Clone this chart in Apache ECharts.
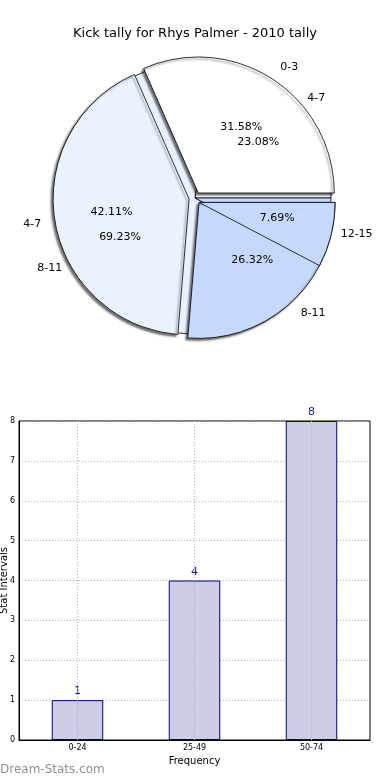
<!DOCTYPE html>
<html>
<head>
<meta charset="utf-8">
<script src="https://cdn.jsdelivr.net/npm/echarts@6/dist/echarts.min.js"></script>
<style>
html,body{margin:0;padding:0;background:#fff;}
#c{width:390px;height:780px;}
</style>
</head>
<body>
<div id="c"></div>
<script>
const chartTitle = 'Kick tally for Rhys Palmer - 2010 tally';
const pieNamesA = ['0-3', '4-7', '8-11'];
const pieValuesA = [31.58, 42.11, 26.32];
const pieNamesB = ['4-7', '8-11', '12-15'];
const pieValuesB = [23.08, 69.23, 7.69];
const barCategories = ['0-24', '25-49', '50-74'];
const barValues = [1, 4, 8];

const FONT = 'DejaVu Sans';
const pieColors = ['#ffffff', '#eaf1ff', '#c5d9ff'];
const R = 136;
const CENTER = [195, 198];
const EXPLODE = 6;

// offset of the exploded last wedge of pie A (so the overlay wedge lines up with it)
const sumA = pieValuesA.reduce((a, b) => a + b, 0);
const midA3 = (360 * (pieValuesA[0] + pieValuesA[1] + pieValuesA[2] / 2) / sumA) * Math.PI / 180;
const CENTER_A3 = [CENTER[0] + EXPLODE * Math.cos(midA3), CENTER[1] - EXPLODE * Math.sin(midA3)];

function pieData(names, vals, extra) {
  return names.map((n, i) => Object.assign({
    name: n, value: vals[i],
    itemStyle: { color: pieColors[i] }
  }, extra ? extra(i) : {}));
}

const nameLabel = {
  show: true, position: 'outside', fontFamily: FONT, fontSize: 11, color: '#000',
  distanceToLabelLine: 0, alignTo: 'none'
};
const nameLabelLine = { show: false, length: 14, length2: 0 };
const pctLabel = {
  show: true, position: 'inside', fontFamily: FONT, fontSize: 11, color: '#000',
  formatter: p => p.value.toFixed(2) + '%'
};

const chart = echarts.init(document.getElementById('c'), null, { renderer: 'canvas' });
chart.setOption({
  animation: false,
  backgroundColor: '#fff',
  title: {
    text: chartTitle, left: 'center', top: 22,
    textStyle: { fontFamily: FONT, fontSize: 13, fontWeight: 'normal', color: '#000' }
  },
  graphic: [{
    type: 'text', left: 0, top: 764,
    style: { text: 'Dream-Stats.com', fontFamily: FONT, fontSize: 12, fontWeight: 'normal', fill: '#8f8f8f' }
  }],
  grid: {
    left: 19, right: 20, top: 421, bottom: 40,
    containLabel: false, outerBoundsMode: 'none',
    show: true, borderColor: '#000', borderWidth: 1, backgroundColor: 'transparent'
  },
  xAxis: {
    type: 'category', data: barCategories, boundaryGap: true,
    name: 'Frequency', nameLocation: 'middle', nameGap: 16, nameMoveOverlap: false,
    nameTextStyle: { fontFamily: FONT, fontSize: 10, color: '#000' },
    axisLine: { show: true, lineStyle: { color: '#000' } },
    axisTick: { show: false },
    axisLabel: { fontFamily: FONT, fontSize: 8, color: '#000', margin: 4 },
    splitLine: { show: false }
  },
  yAxis: {
    type: 'value', min: 0, max: 8, interval: 1,
    name: 'Stat Intervals', nameLocation: 'middle', nameGap: 10, nameRotate: 90, nameMoveOverlap: false,
    nameTextStyle: { fontFamily: FONT, fontSize: 10, color: '#000' },
    axisLine: { show: true, lineStyle: { color: '#000' } },
    axisTick: { show: false },
    axisLabel: { fontFamily: FONT, fontSize: 8, color: '#000', margin: 4 },
    splitLine: { show: true, lineStyle: { color: '#b0b0b0', type: [1, 2], width: 1 } }
  },
  series: [
    {
      type: 'pie', z: 1, center: CENTER, radius: [0, R], startAngle: 0, clockwise: false,
      avoidLabelOverlap: false, silent: true,
      itemStyle: { borderColor: '#000', borderWidth: 0.8 },
      label: nameLabel, labelLine: nameLabelLine,
      emphasis: { disabled: true },
      data: pieData(pieNamesB, pieValuesB)
    },
    {
      type: 'pie', z: 2, center: CENTER, radius: [0, R], startAngle: 0, clockwise: false,
      avoidLabelOverlap: false, silent: true,
      selectedMode: 'multiple', selectedOffset: EXPLODE,
      itemStyle: {
        borderColor: '#000', borderWidth: 0.8,
        shadowColor: 'rgba(0,0,0,0.55)', shadowBlur: 2, shadowOffsetX: -2, shadowOffsetY: 2
      },
      label: nameLabel, labelLine: nameLabelLine,
      emphasis: { disabled: true },
      select: { itemStyle: { borderColor: '#000', borderWidth: 0.8 } },
      data: pieData(pieNamesA, pieValuesA, i => ({ selected: true }))
    },
    {
      type: 'pie', z: 3, center: CENTER_A3, radius: [0, R], startAngle: 0, clockwise: false,
      avoidLabelOverlap: false, silent: true,
      label: { show: false }, labelLine: { show: false },
      emphasis: { disabled: true },
      data: pieNamesB.map((n, i) => ({
        name: n, value: pieValuesB[i],
        itemStyle: i === 2
          ? { color: pieColors[2], borderColor: '#000', borderWidth: 0.8 }
          : { color: 'rgba(0,0,0,0)', borderWidth: 0 }
      }))
    },
    {
      type: 'pie', z: 4, center: CENTER, radius: [0.2 * R, R], startAngle: 0, clockwise: false,
      avoidLabelOverlap: false, silent: true,
      itemStyle: { color: 'rgba(0,0,0,0)', borderWidth: 0 },
      label: pctLabel, labelLine: { show: false },
      emphasis: { disabled: true },
      data: pieNamesA.map((n, i) => ({ name: n, value: pieValuesA[i] }))
    },
    {
      type: 'pie', z: 4, center: CENTER, radius: [0.2 * R, R], startAngle: 0, clockwise: false,
      avoidLabelOverlap: false, silent: true,
      itemStyle: { color: 'rgba(0,0,0,0)', borderWidth: 0 },
      label: pctLabel, labelLine: { show: false },
      emphasis: { disabled: true },
      data: pieNamesB.map((n, i) => ({ name: n, value: pieValuesB[i] }))
    },
    {
      type: 'bar', data: barValues, barWidth: '44%',
      itemStyle: { color: '#ccccE6', borderColor: '#000080', borderWidth: 1 },
      label: { show: true, position: 'top', distance: 3, fontFamily: FONT, fontSize: 11, color: '#1a1a99' },
      markLine: {
        silent: true, symbol: 'none', label: { show: false },
        lineStyle: { color: '#b0b0b0', type: [1, 2], width: 1 },
        data: barCategories.map(c => ({ xAxis: c }))
      },
      z: 2
    }
  ]
});
</script>
</body>
</html>
